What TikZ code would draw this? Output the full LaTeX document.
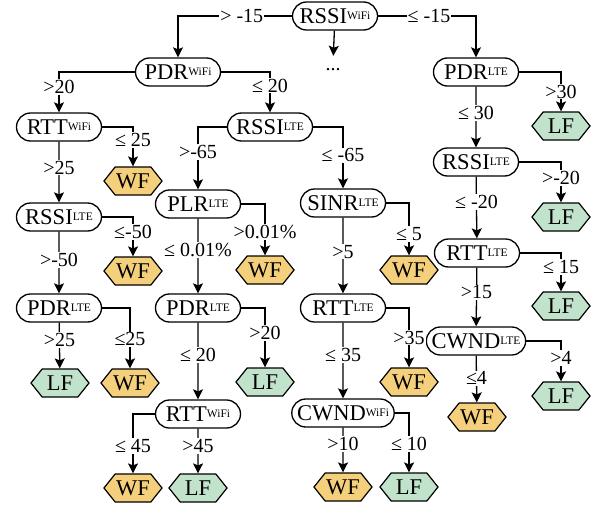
\documentclass[tikz,border=0pt]{standalone}
\usepackage{fontspec}
\setmainfont{Liberation Serif}
\usetikzlibrary{shapes.misc,shapes.symbols,arrows.meta}

\definecolor{wfcol}{HTML}{F5D07C}
\definecolor{lfcol}{HTML}{C2E3CB}

\newcommand{\iface}[1]{\raisebox{4pt}{\fontsize{11.5}{11.5}\selectfont #1}}

\tikzstyle{feat} = [rounded rectangle, draw, line width=1.3pt, minimum width=91pt,
  minimum height=28pt, inner xsep=3pt, font=\fontsize{22.5}{22.5}\selectfont]
\tikzstyle{leaf} = [signal, signal to=east and west, signal pointer angle=103, draw,
  line width=1.2pt, minimum width=58pt, minimum height=28pt, inner xsep=1pt,
  font=\fontsize{22.5}{22.5}\selectfont]
\tikzstyle{wf} = [leaf, fill=wfcol]
\tikzstyle{lf} = [leaf, fill=lfcol]
\tikzstyle{arr} = [line width=1.3pt, -{Stealth[length=10pt,width=10pt,inset=2pt]}]
\tikzstyle{lbl} = [fill=white, inner sep=1pt, font=\fontsize{20}{20}\selectfont]

\begin{document}
\begin{tikzpicture}[x=1pt, y=-1pt]
  \useasboundingbox (0,0) rectangle (597,506);

  % inner nodes
  \node[feat] (root)   at (335,16)  {RSSI\iface{WiFi}};
  \node[feat] (pdrw)   at (178,72)  {PDR\iface{WiFi}};
  \node[feat] (pdrl)   at (476,72)  {PDR\iface{LTE}};
  \node[feat] (rttw)   at (59,127)  {RTT\iface{WiFi}};
  \node[feat] (rssil)  at (270,127) {RSSI\iface{LTE}};
  \node[feat] (rssir)  at (476,162) {RSSI\iface{LTE}};
  \node[feat] (rssill) at (59,217)  {RSSI\iface{LTE}};
  \node[feat] (plr)    at (198,204) {PLR\iface{LTE}};
  \node[feat] (sinr)   at (343,203) {SINR\iface{LTE}};
  \node[feat] (rttr)   at (477,253) {RTT\iface{LTE}};
  \node[feat] (pdrll)  at (59,308)  {PDR\iface{LTE}};
  \node[feat] (pdrlm)  at (198,308) {PDR\iface{LTE}};
  \node[feat] (rttl)   at (343,308) {RTT\iface{LTE}};
  \node[feat] (cwndl)  at (476,341) {CWND\iface{LTE}};
  \node[feat] (rttwb)  at (198,414) {RTT\iface{WiFi}};
  \node[feat] (cwndw)  at (343,413) {CWND\iface{WiFi}};
  \node[inner sep=0pt, text height=14pt, anchor=base, font=\fontsize{20}{20}\selectfont]
    (dots) at (333,70) {...};

  % leaves
  \node[wf] (wf1) at (133,181) {WF};
  \node[lf] (lf1) at (561,126) {LF};
  \node[lf] (lf2) at (561,217) {LF};
  \node[wf] (wf2) at (133,271) {WF};
  \node[wf] (wf3) at (265,270) {WF};
  \node[wf] (wf4) at (409,270) {WF};
  \node[lf] (lf3) at (561,306) {LF};
  \node[lf] (lf4) at (60,383)  {LF};
  \node[wf] (wf5) at (130,383) {WF};
  \node[lf] (lf5) at (265,382) {LF};
  \node[wf] (wf6) at (409,382) {WF};
  \node[lf] (lf6) at (561,396) {LF};
  \node[wf] (wf7) at (477,417) {WF};
  \node[wf] (wf8) at (133,488) {WF};
  \node[lf] (lf7) at (198,488) {LF};
  \node[wf] (wf9) at (343,487) {WF};
  \node[lf] (lf8) at (409,487) {LF};

  % branches
  \draw[arr] (root.west) -| node[lbl, pos=0.22] {> -15} (pdrw);
  \draw[arr] (root.east) -| node[lbl, pos=0.26] {≤ -15} (pdrl);
  \draw[arr] (root) -- (dots);

  \draw[arr] (pdrw.west) -| node[lbl, pos=0.685] {>20} (rttw);
  \draw[arr] (pdrw.east) -| node[lbl, pos=0.67] {≤ 20} (rssil);

  \draw[arr] (rttw.east) -| node[lbl, pos=0.665] {≤ 25} (wf1);
  \draw[arr] (rttw) -- node[lbl, pos=0.43] {>25} (rssill);
  \draw[arr] (rssill.east) -| node[lbl, pos=0.69] {≤-50} (wf2);
  \draw[arr] (rssill) -- node[lbl, pos=0.46] {>-50} (pdrll);
  \draw[arr] (pdrll.east) -| node[lbl, pos=0.76] {≤25} (wf5);
  \draw[arr] (pdrll) -- node[lbl, pos=0.38] {>25} (lf4);

  \draw[arr] (rssil.west) -| node[lbl, pos=0.70] {>-65} (plr);
  \draw[arr] (rssil.east) -| node[lbl, pos=0.73] {≤ -65} (sinr);
  \draw[arr] (plr.east) -| node[lbl, pos=0.77] {>0.01\%} (wf3);
  \draw[arr] (plr) -- node[lbl, pos=0.42] {≤ 0.01\%} (pdrlm);
  \draw[arr] (pdrlm.east) -| node[lbl, pos=0.71] {>20} (lf5);
  \draw[arr] (pdrlm) -- node[lbl, pos=0.42] {≤ 20} (rttwb);
  \draw[arr] (rttwb.west) -| node[lbl, pos=0.77] {≤ 45} (wf8);
  \draw[arr] (rttwb) -- node[lbl, pos=0.39] {>45} (lf7);

  \draw[arr] (sinr.east) -| node[lbl, pos=0.795] {≤ 5} (wf4);
  \draw[arr] (sinr) -- node[lbl, pos=0.45] {>5} (rttl);
  \draw[arr] (rttl.east) -| node[lbl, pos=0.75] {>35} (wf6);
  \draw[arr] (rttl) -- node[lbl, pos=0.43] {≤ 35} (cwndw);
  \draw[arr] (cwndw) -- node[lbl, pos=0.37] {>10} (wf9);
  \draw[arr] (cwndw.east) -| node[lbl, pos=0.76] {≤ 10} (lf8);

  \draw[arr] (pdrl.east) -| node[lbl, pos=0.75] {>30} (lf1);
  \draw[arr] (pdrl) -- node[lbl, pos=0.43] {≤ 30} (rssir);
  \draw[arr] (rssir.east) -| node[lbl, pos=0.70] {>-20} (lf2);
  \draw[arr] (rssir) -- node[lbl, pos=0.41] {≤ -20} (rttr);
  \draw[arr] (rttr.east) -| node[lbl, pos=0.68] {≤ 15} (lf3);
  \draw[arr] (rttr) -- node[lbl, pos=0.42] {>15} (cwndl);
  \draw[arr] (cwndl.east) -| node[lbl, pos=0.71] {>4} (lf6);
  \draw[arr] (cwndl) -- node[lbl, pos=0.48] {≤4} (wf7);
\end{tikzpicture}
\end{document}
